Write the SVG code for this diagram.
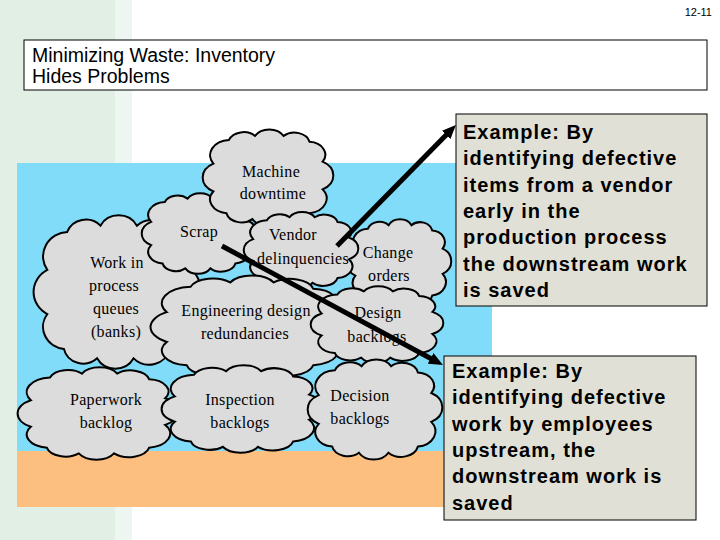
<svg xmlns="http://www.w3.org/2000/svg" xmlns:xlink="http://www.w3.org/1999/xlink" width="720" height="540" viewBox="0 0 720 540">
  <style>
    .cloud { fill: #dcdcdc; stroke: #000; stroke-width: 2; }
    .ct { font-family: "Liberation Serif", "Times New Roman", serif; font-size: 16px; fill: #000; text-anchor: middle; letter-spacing: 0.3px; }
    .ex { font-family: "Liberation Sans", Arial, sans-serif; font-size: 20px; font-weight: bold; fill: #000; letter-spacing: 1px; }
    .box { fill: #e0e0d6; stroke: #000; stroke-width: 1; }
    .arrow { stroke: #000; stroke-width: 5; fill: none; marker-end: url(#head); }
  </style>
  <defs>
    <path id="cloud" vector-effect="non-scaling-stroke" d="M8,36 A15.5,15.5 0 0 1 20,12 A12,12 0 0 1 40,8 A12.5,12.5 0 0 1 62,8 A12,12 0 0 1 82,14 A13,13 0 0 1 92,34 A16,16 0 0 1 92,62 A15,15 0 0 1 82,86 A13,13 0 0 1 60,92 A12.5,12.5 0 0 1 38,92 A12,12 0 0 1 18,86 A14,14 0 0 1 8,64 A16,16 0 0 1 8,36 Z"/>
    <marker id="head" markerUnits="userSpaceOnUse" viewBox="0 0 14 12" markerWidth="14" markerHeight="12" refX="6" refY="6" orient="auto">
      <path d="M0,0 L14,6 L0,12 Z" fill="#000"/>
    </marker>
  </defs>

  <!-- background -->
  <rect x="0" y="0" width="720" height="540" fill="#ffffff"/>
  <rect x="0" y="0" width="115" height="540" fill="#e1efe5"/>
  <rect x="115" y="0" width="17" height="540" fill="#eef6f1"/>

  <text x="712" y="16" font-family="'Liberation Sans', Arial, sans-serif" font-size="11" text-anchor="end" fill="#000">12-11</text>

  <g id="title">
    <rect x="24" y="40" width="683" height="50" fill="#ffffff" stroke="#000" stroke-width="1"/>
    <text x="32" y="62" font-family="'Liberation Sans', Arial, sans-serif" font-size="19.5" fill="#000">Minimizing Waste: Inventory</text>
    <text x="32" y="83" font-family="'Liberation Sans', Arial, sans-serif" font-size="19.5" fill="#000">Hides Problems</text>
  </g>

  <!-- water and ground -->
  <rect x="17" y="163" width="475" height="288" fill="#80dcf8"/>
  <rect x="17" y="451" width="475" height="56" fill="#fdbf80"/>

  <g id="wip">
    <use xlink:href="#cloud" href="#cloud" class="cloud" transform="translate(34,213) scale(1.66,1.58)"/>
    <text class="ct" x="117" y="268">Work in</text>
    <text class="ct" x="114" y="291">process</text>
    <text class="ct" x="116" y="314">queues</text>
    <text class="ct" x="116" y="337">(banks)</text>
  </g>
  <g id="scrap">
    <use xlink:href="#cloud" href="#cloud" class="cloud" transform="translate(142,192) scale(1.14,0.83)"/>
    <text class="ct" x="199" y="237">Scrap</text>
  </g>
  <g id="machine">
    <use xlink:href="#cloud" href="#cloud" class="cloud" transform="translate(203,128) scale(1.30,0.99)"/>
    <text class="ct" x="271" y="177">Machine</text>
    <text class="ct" x="273" y="199">downtime</text>
  </g>
  <g id="change">
    <use xlink:href="#cloud" href="#cloud" class="cloud" transform="translate(347,218) scale(1.04,0.90)"/>
    <text class="ct" x="388" y="258">Change</text>
    <text class="ct" x="389" y="281">orders</text>
  </g>
  <g id="vendor">
    <use xlink:href="#cloud" href="#cloud" class="cloud" transform="translate(244,211) scale(1.14,0.78)"/>
    <text class="ct" x="293" y="240">Vendor</text>
    <text class="ct" x="303" y="264">delinquencies</text>
  </g>
  <g id="engineering">
    <use xlink:href="#cloud" href="#cloud" class="cloud" transform="translate(151,274) scale(1.98,1.06)"/>
    <text class="ct" x="246" y="316">Engineering design</text>
    <text class="ct" x="245" y="339">redundancies</text>
  </g>
  <g id="design">
    <use xlink:href="#cloud" href="#cloud" class="cloud" transform="translate(311,285) scale(1.32,0.79)"/>
    <text class="ct" x="378" y="318">Design</text>
    <text class="ct" x="377" y="342">backlogs</text>
  </g>
  <g id="paperwork">
    <use xlink:href="#cloud" href="#cloud" class="cloud" transform="translate(18,366) scale(1.60,0.95)"/>
    <text class="ct" x="106" y="405">Paperwork</text>
    <text class="ct" x="106" y="428">backlog</text>
  </g>
  <g id="inspection">
    <use xlink:href="#cloud" href="#cloud" class="cloud" transform="translate(162,364) scale(1.60,0.90)"/>
    <text class="ct" x="240" y="405">Inspection</text>
    <text class="ct" x="240" y="428">backlogs</text>
  </g>
  <g id="decision">
    <use xlink:href="#cloud" href="#cloud" class="cloud" transform="translate(308,358) scale(1.34,1.03)"/>
    <text class="ct" x="360" y="401">Decision</text>
    <text class="ct" x="360" y="424">backlogs</text>
  </g>

  <g id="connectors">
    <line class="arrow" x1="337" y1="246" x2="450.3" y2="130.7"/>
    <line class="arrow" x1="222" y1="246" x2="435.9" y2="361.2"/>
  </g>

  <g id="example1">
    <rect class="box" x="456" y="114" width="251" height="192"/>
    <text class="ex" x="463" y="139">Example: By</text>
    <text class="ex" x="463" y="165">identifying defective</text>
    <text class="ex" x="463" y="192">items from a vendor</text>
    <text class="ex" x="463" y="218">early in the</text>
    <text class="ex" x="463" y="244">production process</text>
    <text class="ex" x="463" y="271">the downstream work</text>
    <text class="ex" x="463" y="297">is saved</text>
  </g>

  <g id="example2">
    <rect class="box" x="444" y="356" width="252" height="164"/>
    <text class="ex" x="452" y="378">Example: By</text>
    <text class="ex" x="452" y="404">identifying defective</text>
    <text class="ex" x="452" y="431">work by employees</text>
    <text class="ex" x="452" y="457">upstream, the</text>
    <text class="ex" x="452" y="483">downstream work is</text>
    <text class="ex" x="452" y="510">saved</text>
  </g>
</svg>
